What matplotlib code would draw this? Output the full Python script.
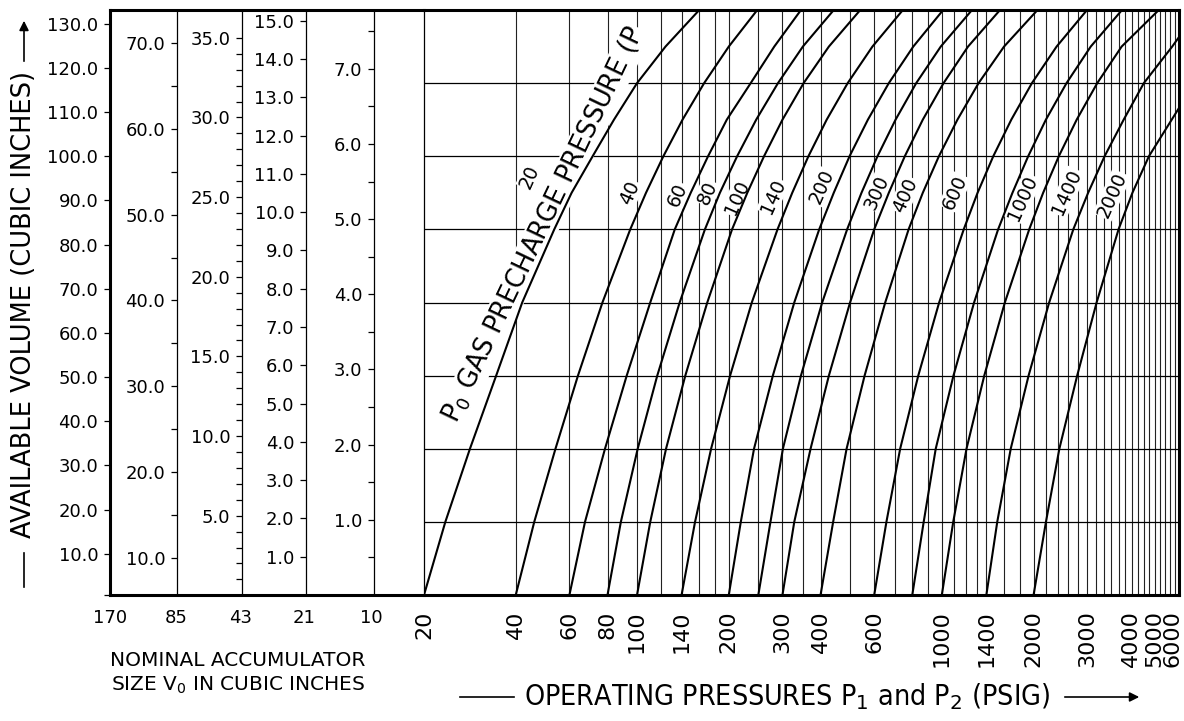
import matplotlib
matplotlib.use("Agg")
import matplotlib.pyplot as plt
import matplotlib.ticker as mticker
import matplotlib.transforms as mtransforms
from matplotlib import font_manager
from matplotlib.lines import Line2D
from matplotlib.patches import FancyArrowPatch

W, H = 1184, 721

# --- left block: nominal accumulator sizes and their volume scales ---
sizes = ["170", "85", "43", "21", "10"]

col1_major = [10, 20, 30, 40, 50, 60, 70, 80, 90, 100, 110, 120, 130]
col1_minor = [0.68]
col2_major = [10, 20, 30, 40, 50, 60, 70]
col2_minor = [15, 25, 35, 45, 55, 65]
col3_major = [5, 10, 15, 20, 25, 30, 35]
col3_minor = [1, 2, 3, 4, 6, 7, 8, 9, 11, 12, 13, 14, 16, 17, 18, 19, 21, 22,
              23, 24, 26, 27, 28, 29, 31, 32, 33, 34]
col4_major = [1, 2, 3, 4, 5, 6, 7, 8, 9, 10, 11, 12, 13, 14, 15]
col4_minor = []
col5_major = [1, 2, 3, 4, 5, 6, 7]
col5_minor = [0.5, 1.5, 2.5, 3.5, 4.5, 5.5, 6.5, 7.5]

# --- right block: operating pressure (psig) ---
p_ticks = [20, 40, 60, 80, 100, 140, 200, 300, 400, 600, 1000, 1400, 2000,
           3000, 4000, 5000, 6000]
p_grid = [40, 60, 80, 100, 120, 140, 160, 180, 200, 250, 300, 350, 400, 500,
          600, 700, 800, 900, 1000, 1100, 1200, 1300, 1400, 1600, 1800, 2000,
          2200, 2400, 2600, 2800, 3000, 3200, 3400, 3600, 3800, 4000, 4200,
          4400, 4600, 4800, 5000, 5200, 5400, 5600, 5800]

# precharge curves: pressure read where each curve crosses a height level
levels = [0, 1, 2, 3, 4, 5, 5.5, 6, 6.5, 7, 7.5, 8]
p_20 = [20, 23.5, 28.3, 34.5, 42, 53.5, 61, 71.5, 84, 100, 124, 160]
p_40 = [40, 46, 54, 64, 77, 95, 107, 122, 141, 166, 200, 248]
p_60 = [60, 67.5, 78.5, 92.5, 110.5, 133, 150, 171, 197, 236, 282, 345]
p_80 = [80, 88.5, 100.5, 116.5, 138, 167, 187, 213, 246, 290, 350, 442]
p_100 = [100, 110.5, 124.5, 144, 170, 205, 230, 261, 300, 352, 426, 540]
p_140 = [140, 155, 175, 202, 238, 289, 323, 365, 419, 491, 592, 745]
p_200 = [200, 219, 242, 279, 328, 396, 442, 498, 572, 670, 806, 1010]
p_250 = [250, 274, 301, 345, 405, 489, 545, 615, 705, 824, 992, 1256]
p_300 = [300, 328, 371, 426, 500, 600, 670, 756, 866, 1013, 1219, 1552]
p_400 = [400, 440, 487, 558, 652, 778, 866, 978, 1125, 1320, 1600, 2060]
p_600 = [600, 658, 730, 837, 980, 1180, 1310, 1475, 1690, 1975, 2380, 2995]
p_800 = [800, 872, 955, 1092, 1276, 1530, 1705, 1920, 2195, 2565, 3080, 3900]
p_1000 = [1000, 1090, 1205, 1378, 1610, 1935, 2150, 2420, 2770, 3235, 3890, 5150]
levels_1400 = [0, 1, 2, 3, 4, 5, 5.5, 6, 6.5, 7, 7.5, 7.63]
p_1400 = [1400, 1520, 1683, 1926, 2250, 2700, 3020, 3420, 3950, 4600, 5700, 6000]
levels_2000 = [0, 1, 2, 3, 4, 5, 5.5, 6, 6.66]
p_2000 = [2000, 2196, 2430, 2780, 3220, 3800, 4220, 4780, 6000]

label_text = ["20", "40", "60", "80", "100", "140", "200", "300", "400",
              "600", "1000", "1400", "2000"]
label_p = [44.5, 94.8, 136, 170, 213, 279, 404, 613, 757, 1104, 1846, 2574, 3616]
label_lv = [5.72, 5.50, 5.47, 5.50, 5.43, 5.45, 5.58, 5.51, 5.47, 5.51, 5.43,
            5.51, 5.47]

curves = [(p_20, levels), (p_40, levels), (p_60, levels), (p_80, levels),
          (p_100, levels), (p_140, levels), (p_200, levels), (p_250, levels),
          (p_300, levels), (p_400, levels), (p_600, levels), (p_800, levels),
          (p_1000, levels), (p_1400, levels_1400), (p_2000, levels_2000)]

# column positions (fraction of left block) and linear calibration base = a*v + c
col_loc = [0.0, 0.2134, 0.4204, 0.6242, 0.8408]
col_a = [0.060404, 0.11737, 0.2178, 0.5236, 1.028]
col_c = [-0.041, -0.6674, -0.004, 0.0, 0.0]
col_ticks = [(col1_major, col1_minor), (col2_major, col2_minor),
             (col3_major, col3_minor), (col4_major, col4_minor),
             (col5_major, col5_minor)]

# small horizontal nudges (px) of crowded pressure labels
label_nudge = {"4000": 6, "5000": -1, "6000": -6}

FRAME = 2.2
THIN = 0.9

fig = plt.figure(figsize=(W / 100, H / 100), dpi=100)
x0, x1, x2 = 110, 424, 1179
ytop, ybot = 10, 595
ax_l = fig.add_axes([x0 / W, (H - ybot) / H, (x1 - x0) / W, (ybot - ytop) / H])
ax_r = fig.add_axes([x1 / W, (H - ybot) / H, (x2 - x1) / W, (ybot - ytop) / H])

# left block
ax_l.set_xlim(0, 1)
ax_l.set_ylim(0, 8)
ax_l.set_yticks([])
ax_l.set_xticks([c - 0.012 for c in col_loc], sizes)
ax_l.tick_params(axis="x", length=0, pad=10, labelsize=13)
for s in ["left", "top", "bottom"]:
    ax_l.spines[s].set_linewidth(FRAME)
ax_l.spines["right"].set_visible(False)

for loc, a, c, (major, minor) in zip(col_loc, col_a, col_c, col_ticks):
    sec = ax_l.secondary_yaxis(
        loc, functions=(lambda b, a=a, c=c: (b - c) / a,
                        lambda v, a=a, c=c: v * a + c))
    sec.set_alignment("left")
    sec.set_ticks(major, [f"{v:.1f}" for v in major])
    sec.set_ticks(minor, minor=True)
    sec.tick_params(which="both", direction="out", length=4.5, width=THIN,
                    pad=4, labelsize=13)
    if loc == 0.0:
        sec.spines["left"].set_visible(False)
    else:
        sec.spines["left"].set_linewidth(THIN)

# right block
ax_r.set_xscale("log")
ax_r.set_xlim(20, 6000)
ax_r.set_ylim(0, 8)
ax_r.set_yticks([])
ax_r.xaxis.set_minor_locator(mticker.NullLocator())
ax_r.set_xticks(p_ticks, [str(p) for p in p_ticks])
ax_r.tick_params(axis="x", length=0, pad=11, labelsize=16, labelrotation=90)
for lab in ax_r.get_xticklabels():
    dx = label_nudge.get(lab.get_text(), 0)
    if dx:
        lab.set_transform(lab.get_transform() + mtransforms.ScaledTranslation(
            dx / 100, 0, fig.dpi_scale_trans))
for s in ["right", "top", "bottom"]:
    ax_r.spines[s].set_linewidth(FRAME)
ax_r.spines["left"].set_linewidth(THIN)

ax_r.vlines(p_grid, 0, 8, colors="#222222", lw=0.8, zorder=1)
ax_r.hlines([1, 2, 3, 4, 5, 6, 7], 20, 6000, colors="black", lw=THIN, zorder=1)

for p, lv in curves:
    ax_r.plot(p, lv, color="black", lw=1.5, zorder=4, solid_joinstyle="round")

for t, p, lv in zip(label_text, label_p, label_lv):
    ax_r.text(p, lv, t, rotation=66, ha="center", va="center", fontsize=13.5,
              bbox=dict(facecolor="white", edgecolor="none", pad=0.6), zorder=3)

ax_r.text(49.5, 5.06, "P$_0$ GAS PRECHARGE PRESSURE (P", rotation=64.5,
          rotation_mode="anchor", ha="center", va="center", fontsize=18.5,
          bbox=dict(facecolor="white", edgecolor="none", pad=1), zorder=3)


def fx(px):
    return px / W


def fy(py):
    return 1 - py / H


# y label with its leader and arrow
fig.text(fx(24), fy(304), "AVAILABLE VOLUME (CUBIC INCHES)", rotation=90,
         ha="center", va="center", fontsize=18.5)
fig.add_artist(Line2D([fx(24), fx(24)], [fy(553), fy(587)], color="black",
                      lw=1.2, transform=fig.transFigure))
fig.add_artist(FancyArrowPatch((fx(24), fy(64)), (fx(24), fy(18)),
                               arrowstyle="-|>", mutation_scale=14, lw=1.2,
                               color="black", transform=fig.transFigure))

# size caption
fig.text(fx(238), fy(661), "NOMINAL ACCUMULATOR", ha="center", va="center",
         fontsize=14.5)
fig.text(fx(238), fy(685), "SIZE V$_0$ IN CUBIC INCHES", ha="center",
         va="center", fontsize=14.5)

# x label with leader and arrow (condensed face when available)
xlabel = "OPERATING PRESSURES P$_1$ and P$_2$ (PSIG)"
have_cond = any(f.name == "DejaVu Sans" and f.stretch == "condensed"
                for f in font_manager.fontManager.ttflist)
if have_cond:
    fig.text(fx(787), fy(697), xlabel, ha="center", va="center", fontsize=20.5,
             fontstretch="condensed")
else:
    fig.text(fx(787), fy(697), xlabel, ha="center", va="center", fontsize=18)
fig.add_artist(Line2D([fx(460), fx(514)], [fy(697), fy(697)], color="black",
                      lw=1.2, transform=fig.transFigure))
fig.add_artist(FancyArrowPatch((fx(1062), fy(697)), (fx(1142), fy(697)),
                               arrowstyle="-|>", mutation_scale=14, lw=1.2,
                               color="black", transform=fig.transFigure))

fig.savefig("out.png", dpi=100)
